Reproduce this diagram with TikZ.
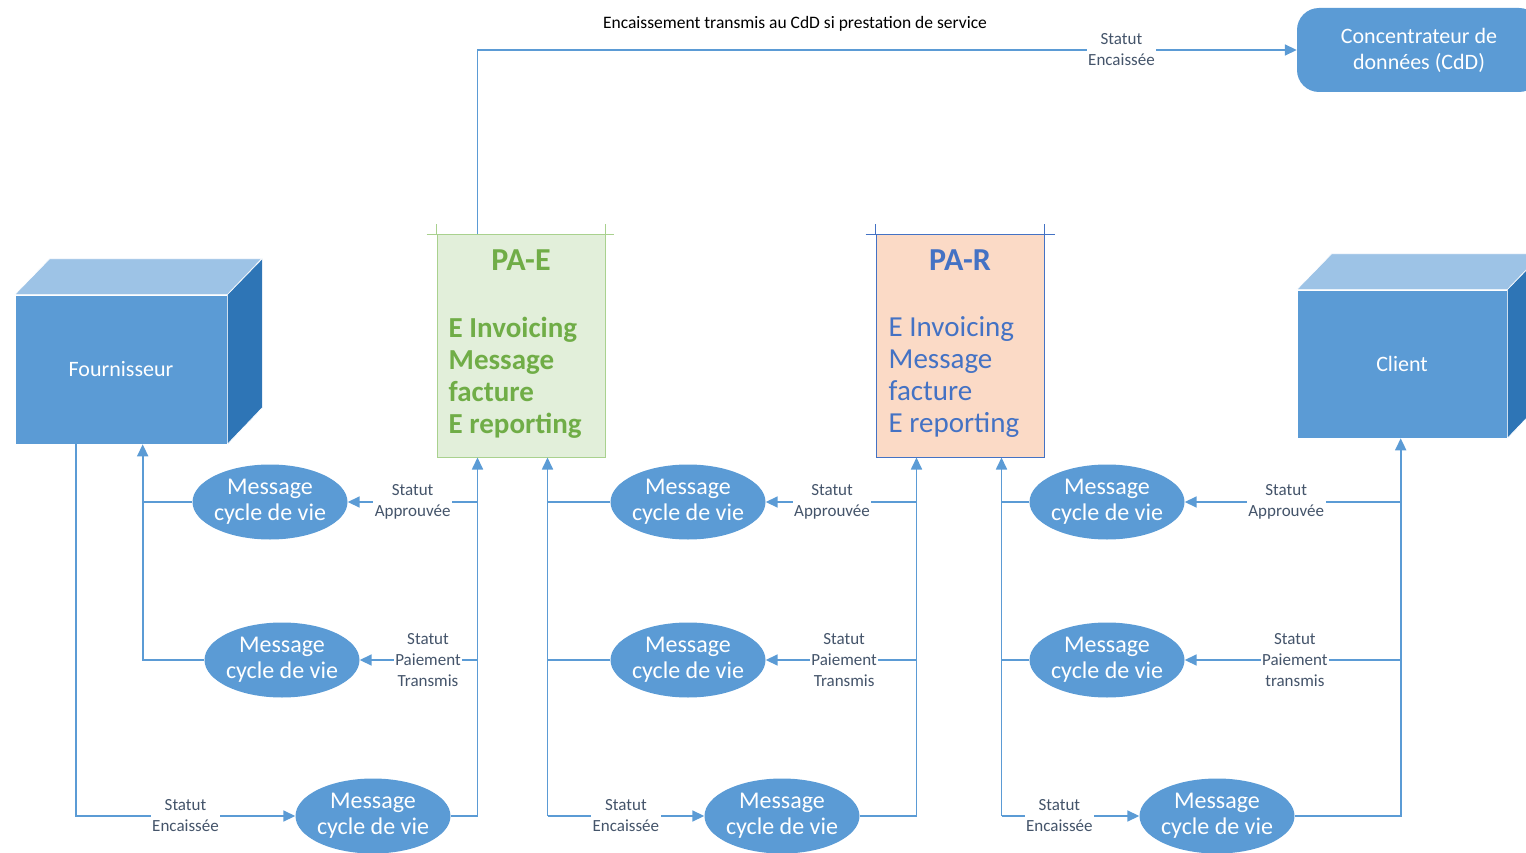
\documentclass[tikz,border=0pt]{standalone}
\usepackage{fontspec}
\setmainfont{Carlito}
\usetikzlibrary{shapes.geometric,arrows.meta,positioning}

\definecolor{lineblue}{HTML}{5B9BD5}
\definecolor{faceblue}{HTML}{5B9BD5}
\definecolor{topblue}{HTML}{9DC3E6}
\definecolor{sideblue}{HTML}{2E75B6}
\definecolor{labelgray}{HTML}{44546A}
\definecolor{pagreen}{HTML}{70AD47}
\definecolor{pagreenfill}{HTML}{E2EFDA}
\definecolor{pagreenline}{HTML}{A9D18E}
\definecolor{parfill}{HTML}{FBDAC6}
\definecolor{parblue}{HTML}{4472C4}

\tikzset{
  msg/.style={ellipse, fill=faceblue, text=white, minimum width=155pt,
    minimum height=75pt, inner sep=-4pt, align=center,
    font=\fontsize{24}{26}\selectfont},
  flow/.style={draw=lineblue, line width=1.7pt},
  arr/.style={flow, -{Triangle[length=12pt,width=11pt]}},
  statut/.style={fill=white, text=labelgray, align=center, inner sep=1.5pt,
    font=\fontsize{17}{21}\selectfont},
  cubeface/.style={rectangle, fill=faceblue, draw=white, line width=0.6pt,
    text=white, font=\fontsize{22}{26}\selectfont},
  pabox/.style={rectangle, minimum width=168pt, minimum height=222pt, line width=1pt},
  patitle/.style={font=\fontsize{32}{34}\selectfont\bfseries},
  pabody/.style={align=left, inner sep=0pt, font=\fontsize{29}{32}\selectfont}
}

\begin{document}
\begin{tikzpicture}[x=1pt, y=-1pt]
    \useasboundingbox (0,0) rectangle (1526,853);

    % acteurs
    \node[cubeface, minimum width=212pt, minimum height=149pt] (four) at (121,369.5) {Fournisseur};
    \fill[topblue, draw=white, line width=0.6pt] (four.north west) -- ++(35,-36) -- ++(212,0) -- (four.north east) -- cycle;
    \fill[sideblue, draw=white, line width=0.6pt] (four.north east) -- ++(35,-36) -- ++(0,149) -- (four.south east) -- cycle;

    \node[cubeface, minimum width=210pt, minimum height=148pt] (cli) at (1402,364) {Client};
    \fill[topblue, draw=white, line width=0.6pt] (cli.north west) -- ++(35,-36) -- ++(210,0) -- (cli.north east) -- cycle;
    \fill[sideblue, draw=white, line width=0.6pt] (cli.north east) -- ++(35,-36) -- ++(0,148) -- (cli.south east) -- cycle;

    \node[rectangle, rounded corners=22pt, fill=faceblue, text=white, align=center,
      minimum width=244pt, minimum height=84pt, font=\fontsize{22}{26}\selectfont]
      (cdd) at (1419,50) {Concentrateur de\\données (CdD)};

    % plateformes
    \node[pabox, fill=pagreenfill, draw=pagreenline] (pae) at (521,346) {};
    \draw[pagreenline, line width=1pt] ([xshift=-10pt]pae.north west) -- ([xshift=8pt]pae.north east);
    \draw[pagreenline, line width=1pt] ([yshift=10pt]pae.north west) -- (pae.north west);
    \draw[pagreenline, line width=1pt] ([yshift=10pt]pae.north east) -- (pae.north east);
    \node[patitle, text=pagreen] (paetitre) at ([yshift=-26pt]pae.north) {PA-E};
    \node[pabody, text=pagreen, font=\fontsize{29}{32}\selectfont\bfseries, anchor=north west] (paetexte)
      at ([xshift=12pt,yshift=-82pt]pae.north west) {E Invoicing\\Message\\facture\\E reporting};

    \node[pabox, fill=parfill, draw=parblue] (par) at (960,346) {};
    \draw[parblue, line width=1pt] ([xshift=-10pt]par.north west) -- ([xshift=10pt]par.north east);
    \draw[parblue, line width=1pt] ([yshift=10pt]par.north west) -- (par.north west);
    \draw[parblue, line width=1pt] ([yshift=10pt]par.north east) -- (par.north east);
    \node[patitle, text=parblue] (partitre) at ([yshift=-26pt]par.north) {PA-R};
    \node[pabody, text=parblue, anchor=north west] (partexte)
      at ([xshift=13pt,yshift=-82pt]par.north west) {E Invoicing\\Message\\facture\\E reporting};

    % points d'attache
    \coordinate (fourOut) at ([xshift=61pt]four.south west);
    \coordinate (fourIn) at ([xshift=128pt]four.south west);
    \coordinate (paeIn) at ([xshift=41pt]pae.south west);
    \coordinate (paeOut) at ([xshift=111pt]pae.south west);
    \coordinate (paeTop) at ([xshift=41pt]pae.north west);
    \coordinate (parIn) at ([xshift=41pt]par.south west);
    \coordinate (parOut) at ([xshift=126pt]par.south west);
    \coordinate (cliIn) at ([xshift=104pt]cli.south west);

    % messages cycle de vie
    \node[msg] (e1) at (270,502) {Message\\cycle de vie};
    \node[msg] (e2) at (282,660) {Message\\cycle de vie};
    \node[msg] (e3) at (373,816) {Message\\cycle de vie};
    \node[msg] (e4) at (688,502) {Message\\cycle de vie};
    \node[msg] (e5) at (688,660) {Message\\cycle de vie};
    \node[msg] (e6) at (782,816) {Message\\cycle de vie};
    \node[msg] (e7) at (1107,502) {Message\\cycle de vie};
    \node[msg] (e8) at (1107,660) {Message\\cycle de vie};
    \node[msg] (e9) at (1217,816) {Message\\cycle de vie};

    % Fournisseur <-> PA-E
    \draw[arr] (fourOut) |- node[statut, pos=0.75] {Statut\\Encaissée} (e3);
    \draw[arr] (e3) -| (paeIn);
    \draw[arr] (paeIn |- e1) -- node[statut] {Statut\\Approuvée} (e1);
    \draw[arr] (paeIn |- e2) -- node[statut, pos=0.42] {Statut\\Paiement\\Transmis} (e2);
    \draw[flow] (e1) -- (fourIn |- e1);
    \draw[arr] (e2) -| (fourIn);

    % PA-E <-> PA-R
    \draw[arr] (paeOut |- e6) -- (paeOut);
    \draw[flow] (e4) -- (paeOut |- e4);
    \draw[flow] (e5) -- (paeOut |- e5);
    \draw[arr] (paeOut |- e6) -- node[statut] {Statut\\Encaissée} (e6);
    \draw[arr] (e6) -| (parIn);
    \draw[arr] (parIn |- e4) -- node[statut, pos=0.56] {Statut\\Approuvée} (e4);
    \draw[arr] (parIn |- e5) -- node[statut, pos=0.48] {Statut\\Paiement\\Transmis} (e5);

    % PA-R <-> Client
    \draw[arr] (parOut |- e9) -- (parOut);
    \draw[flow] (e7) -- (parOut |- e7);
    \draw[flow] (e8) -- (parOut |- e8);
    \draw[arr] (parOut |- e9) -- node[statut, pos=0.42] {Statut\\Encaissée} (e9);
    \draw[arr] (e9) -| (cliIn);
    \draw[arr] (cliIn |- e7) -- node[statut, pos=0.53] {Statut\\Approuvée} (e7);
    \draw[arr] (cliIn |- e8) -- node[statut, pos=0.49] {Statut\\Paiement\\transmis} (e8);

    % vers le CdD
    \draw[arr] (paeTop) |- node[statut, pos=0.893] {Statut\\Encaissée} (cdd);
    \node[font=\fontsize{17.5}{20}\selectfont] (titre) at (795,24)
      {Encaissement transmis au CdD si prestation de service};
\end{tikzpicture}
\end{document}
